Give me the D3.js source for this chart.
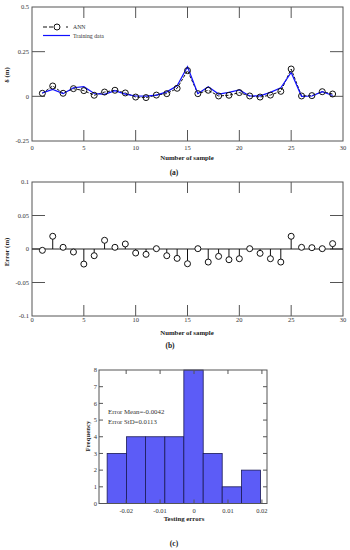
<!DOCTYPE html>
<html><head><meta charset="utf-8">
<script src="https://cdn.jsdelivr.net/npm/d3@7"></script>
<style>body{margin:0;background:#fff}svg{display:block}text{font-family:"Liberation Serif","Times New Roman",serif}</style>
</head><body>
<svg id="c" width="350" height="550"></svg>
<script>
const samples = d3.range(1, 30);
const annValues = [0.017,0.058,0.017,0.043,0.032,0.006,0.024,0.034,0.019,-0.004,-0.007,0.007,0.015,0.045,0.144,0.015,0.034,0.002,0.006,0.021,0.002,-0.004,0.007,0.028,0.153,0.002,0.004,0.026,0.013];
const trainingValues = [0.019,0.039,0.015,0.048,0.054,0.016,0.011,0.032,0.012,0.002,0.001,0.007,0.025,0.059,0.166,0.015,0.054,0.013,0.022,0.036,0.002,0.003,0.022,0.048,0.134,0.000,0.002,0.026,0.005];
const errorValues = [-0.002,0.019,0.0025,-0.0045,-0.0225,-0.01,0.013,0.0025,0.0075,-0.006,-0.008,0.0005,-0.01,-0.014,-0.022,0.0005,-0.0195,-0.011,-0.016,-0.0145,0.0005,-0.0065,-0.0145,-0.0195,0.019,0.0025,0.002,0.0005,0.008];
const histEdges = [-0.0256,-0.0199,-0.0143,-0.0086,-0.0030,0.0027,0.0083,0.0140,0.0196];
const histCounts = [3,4,4,4,8,3,1,2];
const xTicksA = [0,5,10,15,20,25,30];
const yTicksA = [-0.25,0,0.25,0.5];
const yTicksB = [-0.1,-0.05,0,0.05,0.1];
const xTicksC = [-0.02,-0.01,0,0.01,0.02];
const yTicksC = [0,1,2,3,4,5,6,7,8];
const statsText = ["Error Mean=-0.0042","Error StD=0.0113"];

const svg = d3.select("#c");
const AX = "#555";
const fmt = v => String(v);

function frame(x, y, xt, yt, xLen, yLen) {
  const g = svg.append("g");
  const [x0,x1] = x.range(), [y0,y1] = y.range();
  g.append("rect").attr("x",x0).attr("y",y1).attr("width",x1-x0).attr("height",y0-y1)
    .attr("fill","none").attr("stroke",AX).attr("stroke-width",1);
  xt.forEach(t => {
    const px = x(t);
    if (px <= x0+0.5 || px >= x1-0.5) return;
    g.append("line").attr("x1",px).attr("x2",px).attr("y1",y0).attr("y2",y0-xLen).attr("stroke",AX);
    g.append("line").attr("x1",px).attr("x2",px).attr("y1",y1).attr("y2",y1+xLen).attr("stroke",AX);
  });
  yt.forEach(t => {
    const py = y(t);
    if (py <= y1+0.5 || py >= y0-0.5) return;
    g.append("line").attr("x1",x0).attr("x2",x0+yLen).attr("y1",py).attr("y2",py).attr("stroke",AX);
    g.append("line").attr("x1",x1).attr("x2",x1-yLen).attr("y1",py).attr("y2",py).attr("stroke",AX);
  });
  return g;
}
function tickLabels(x, y, xt, yt, xBase, yRight, fs) {
  xt.forEach(t => svg.append("text").attr("x",x(t)).attr("y",xBase).attr("text-anchor","middle")
    .attr("font-size",fs).attr("fill","#333").text(fmt(t)));
  yt.forEach(t => svg.append("text").attr("x",yRight).attr("y",y(t)+2.2).attr("text-anchor","end")
    .attr("font-size",fs).attr("fill","#333").text(fmt(t)));
}
function label(txt, x, y, fs, bold, rot) {
  const t = svg.append("text").attr("x",x).attr("y",y).attr("text-anchor","middle")
    .attr("font-size",fs).attr("font-weight",bold?"bold":"normal").attr("fill","#222").text(txt);
  if (rot) t.attr("transform",`rotate(-90,${x},${y})`);
  return t;
}

// ---------- Panel (a)
const xA = d3.scaleLinear().domain([0,30]).range([32,343]);
const yA = d3.scaleLinear().domain([-0.25,0.5]).range([141,7]);
frame(xA, yA, xTicksA, yTicksA, 11, 13);
tickLabels(xA, yA, xTicksA, yTicksA, 149.5, 29, 6.5);
label("Number of sample", 187, 159.5, 6.8, true);
label("δ (m)", 9, 75, 6.8, true, true);
label("(a)", 174, 175, 7.5, true);

const annLine = d3.line().x((d,i)=>xA(samples[i])).y(d=>yA(d));
svg.append("path").attr("d",annLine(annValues)).attr("fill","none").attr("stroke","#111")
  .attr("stroke-width",1).attr("stroke-dasharray","3,1.5");
svg.append("path").attr("d",annLine(trainingValues)).attr("fill","none").attr("stroke","#1010ff").attr("stroke-width",1.2);
svg.append("g").selectAll("circle").data(annValues).join("circle")
  .attr("cx",(d,i)=>xA(samples[i])).attr("cy",d=>yA(d)).attr("r",3)
  .attr("fill","none").attr("stroke","#111").attr("stroke-width",1);
// legend
const lg = svg.append("g");
lg.append("line").attr("x1",43).attr("x2",61).attr("y1",27).attr("y2",27).attr("stroke","#111").attr("stroke-width",1.2).attr("stroke-dasharray","4,2");
lg.append("line").attr("x1",66).attr("x2",68).attr("y1",27).attr("y2",27).attr("stroke","#111").attr("stroke-width",1.2);
lg.append("circle").attr("cx",57).attr("cy",27).attr("r",3).attr("fill","#fff").attr("stroke","#111").attr("stroke-width",1);
lg.append("line").attr("x1",43).attr("x2",70).attr("y1",35.5).attr("y2",35.5).attr("stroke","#1010ff").attr("stroke-width",1.2);
lg.append("text").attr("x",73).attr("y",29).attr("font-size",5.8).attr("fill","#333").text("ANN");
lg.append("text").attr("x",73).attr("y",38).attr("font-size",5.8).attr("fill","#333").text("Training data");

// ---------- Panel (b)
const xB = d3.scaleLinear().domain([0,30]).range([32,343]);
const yB = d3.scaleLinear().domain([-0.1,0.1]).range([316,182]);
frame(xB, yB, xTicksA, yTicksB, 11, 13);
tickLabels(xB, yB, xTicksA, yTicksB, 322, 29, 6.5);
label("Number of sample", 187, 335, 6.8, true);
label("Error (m)", 9, 252, 6.8, true, true);
label("(b)", 170, 348, 7.5, true);
svg.append("line").attr("x1",32).attr("x2",343).attr("y1",yB(0)).attr("y2",yB(0)).attr("stroke","#222");
svg.append("g").selectAll("line").data(errorValues).join("line")
  .attr("x1",(d,i)=>xB(samples[i])).attr("x2",(d,i)=>xB(samples[i]))
  .attr("y1",yB(0)).attr("y2",d=>yB(d)).attr("stroke","#111").attr("stroke-width",1);
svg.append("g").selectAll("circle").data(errorValues).join("circle")
  .attr("cx",(d,i)=>xB(samples[i])).attr("cy",d=>yB(d)).attr("r",3)
  .attr("fill","#fff").attr("stroke","#111").attr("stroke-width",1);

// ---------- Panel (c)
const xC = d3.scaleLinear().domain([-0.028,0.0215]).range([99,267]);
const yC = d3.scaleLinear().domain([0,8]).range([503.5,370]);
svg.append("g").selectAll("rect").data(histCounts).join("rect")
  .attr("x",(d,i)=>xC(histEdges[i])).attr("width",(d,i)=>xC(histEdges[i+1])-xC(histEdges[i]))
  .attr("y",d=>yC(d)).attr("height",d=>yC(0)-yC(d))
  .attr("fill","#5c5cf7").attr("stroke","#1a1a55").attr("stroke-width",0.8);
frame(xC, yC, xTicksC, yTicksC, 4, 4);
tickLabels(xC, yC, xTicksC, yTicksC, 512.5, 97, 6.5);
label("Testing errors", 184, 520.5, 6.8, true);
label("Frequency", 90, 436, 6.8, true, true);
label("(c)", 174, 546, 7.5, true);
statsText.forEach((s,i) => svg.append("text").attr("x",108).attr("y",414+i*9.5)
  .attr("font-size",6.8).attr("fill","#333").text(s));
</script>
</body></html>
